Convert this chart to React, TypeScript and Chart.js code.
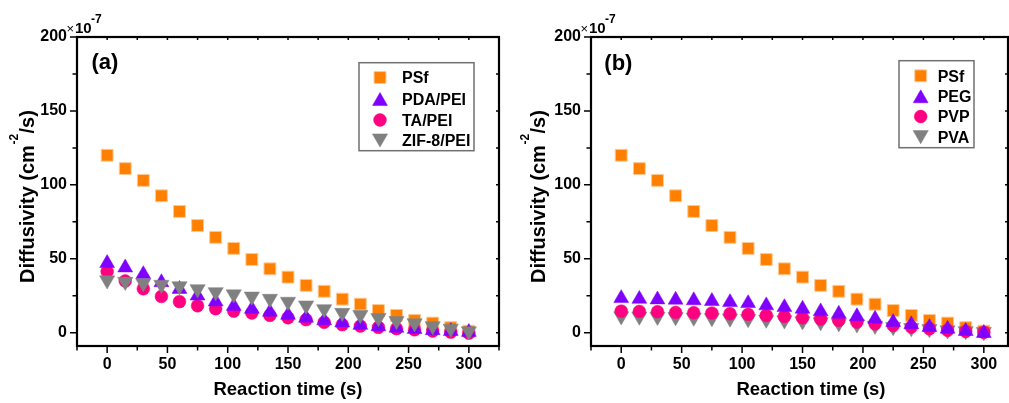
import React, { useEffect, useRef } from 'react';
import { Chart, registerables } from 'chart.js';

Chart.register(...registerables);

// ---------------- data ----------------
const reactionTimes = [0, 15, 30, 45, 60, 75, 90, 105, 120, 135, 150, 165, 180, 195, 210, 225, 240, 255, 270, 285, 300];

const psf = [120, 111, 103, 92.6, 82, 72.5, 64.5, 57, 49.5, 43.2, 37.6, 32, 28, 22.7, 19.3, 15, 11.7, 8.3, 6.5, 3.4, 1];
const pdaPei = [47, 44, 39.5, 34, 29.5, 25, 21, 18, 16, 14, 12, 10, 8.2, 6.8, 5.2, 4.2, 3.2, 2.3, 1.6, 1, 0.4];
const taPei = [41.4, 35, 29.7, 24.5, 21, 18.2, 16.2, 14.6, 13.3, 11.7, 10.1, 8.8, 7, 5.4, 4.5, 3.6, 2.7, 2, 1.1, 0.4, -0.3];
const zifPei = [35.5, 34.5, 33.5, 32.5, 31.5, 29.5, 27.5, 26, 24.5, 23, 21, 18.5, 16, 13.5, 12, 10, 8, 6.5, 4.5, 2.8, 1];

const peg = [23.3, 22.8, 22.4, 22.2, 21.8, 21.3, 20.6, 19.9, 18.4, 17.2, 16.1, 14.3, 12.7, 11, 9.3, 7.1, 5.6, 3.7, 2.6, 1, -0.3];
const pvp = [14.6, 14.4, 14.2, 13.7, 13.5, 13.3, 12.8, 12.4, 11.7, 11, 10.1, 9.2, 8.3, 7.2, 6, 4.9, 3.8, 2.7, 1.6, 0.9, 0.2];
const pva = [11.2, 11, 10.8, 10.6, 10.3, 10, 9.7, 9.3, 8.9, 8.4, 7.8, 7.2, 6.5, 5.7, 4.8, 3.9, 3.2, 2.5, 1.7, 1.1, 0.5];

const seriesNamesA = ['PSf', 'PDA/PEI', 'TA/PEI', 'ZIF-8/PEI'];
const seriesNamesB = ['PSf', 'PEG', 'PVP', 'PVA'];

const xLabelTicks = [0, 50, 100, 150, 200, 250, 300];
const xMinorTicks = [-25, 0, 25, 50, 75, 100, 125, 150, 175, 200, 225, 250, 275, 300, 325];
const yLabelTicks = [0, 50, 100, 150, 200];
const yMinorTicks = [0, 25, 50, 75, 100, 125, 150, 175, 200];

const xTitle = 'Reaction time (s)';
const yTitleParts = ['Diffusivity (cm', '-2', '/s)'];
const multiplierParts = ['×', '10', '-7'];

// ---------------- styles ----------------
const FONT = '"Liberation Sans", Arial, Helvetica, sans-serif';
const ORANGE = '#FF8000';
const PURPLE = '#8000FF';
const PINK = '#FF0080';
const GREY = '#808080';

type MarkerStyle = { style: 'rect' | 'triangle' | 'circle'; rotation: number; radius: number; color: string; border: string; borderWidth: number };

const markers: MarkerStyle[] = [
  { style: 'rect', rotation: 0, radius: 8.4, color: ORANGE, border: '#FFC890', borderWidth: 1 },
  { style: 'triangle', rotation: 0, radius: 8.6, color: PURPLE, border: PURPLE, borderWidth: 0.5 },
  { style: 'circle', rotation: 0, radius: 6.4, color: PINK, border: PINK, borderWidth: 0.5 },
  { style: 'triangle', rotation: 180, radius: 8.8, color: GREY, border: GREY, borderWidth: 0.5 },
];

interface PanelCfg {
  tag: string;
  names: string[];
  series: number[][];
  drawOrder: number[]; // lower = on top
  canvasWidth: number;
  plotLeft: number;
  padRight: number;
  xMax: number;
  legendBox: [number, number, number, number];
  legendMarkerX: number;
  legendTextX: number;
  legendRows: number[];
  tagX: number;
  tagY: number;
  xTitleX: number;
  yTitleX: number;
}

const PLOT_TOP = 37;
const PLOT_BOTTOM = 346;
const CANVAS_H = 403;

const panelA: PanelCfg = {
  tag: '(a)',
  names: seriesNamesA,
  series: [psf, pdaPei, taPei, zifPei],
  drawOrder: [3, 1, 2, 0],
  canvasWidth: 505,
  plotLeft: 77,
  padRight: 6,
  xMax: 325,
  legendBox: [359, 62.7, 115, 88],
  legendMarkerX: 380,
  legendTextX: 402,
  legendRows: [77.5, 99, 120, 140.5],
  tagX: 91.5,
  tagY: 69,
  xTitleX: 288,
  yTitleX: 33.8,
};

const panelB: PanelCfg = {
  tag: '(b)',
  names: seriesNamesB,
  series: [psf, peg, pvp, pva],
  drawOrder: [3, 0, 1, 2],
  canvasWidth: 504,
  plotLeft: 86,
  padRight: 1,
  xMax: 320,
  legendBox: [394, 60.7, 75, 87],
  legendMarkerX: 415.7,
  legendTextX: 432.7,
  legendRows: [75.8, 96.3, 116.5, 137.2],
  tagX: 99.3,
  tagY: 69.5,
  xTitleX: 306,
  yTitleX: 40.3,
};

function drawMarker(ctx: CanvasRenderingContext2D, m: MarkerStyle, x: number, y: number) {
  ctx.save();
  ctx.fillStyle = m.color;
  ctx.strokeStyle = m.border;
  ctx.lineWidth = m.borderWidth;
  ctx.beginPath();
  const r = m.radius;
  if (m.style === 'rect') {
    const s = r * Math.SQRT1_2;
    ctx.rect(x - s, y - s, 2 * s, 2 * s);
  } else if (m.style === 'circle') {
    ctx.arc(x, y, r, 0, Math.PI * 2);
  } else {
    let rad = (m.rotation * Math.PI) / 180;
    ctx.moveTo(x + Math.sin(rad) * r, y - Math.cos(rad) * r);
    rad += (2 * Math.PI) / 3;
    ctx.lineTo(x + Math.sin(rad) * r, y - Math.cos(rad) * r);
    rad += (2 * Math.PI) / 3;
    ctx.lineTo(x + Math.sin(rad) * r, y - Math.cos(rad) * r);
    ctx.closePath();
  }
  ctx.fill();
  if (m.borderWidth > 0) ctx.stroke();
  ctx.restore();
}

function makeDecorPlugin(cfg: PanelCfg) {
  return {
    id: 'decor' + cfg.tag,
    afterDraw(chart: any) {
      const ctx: CanvasRenderingContext2D = chart.ctx;
      const { left, right, top, bottom } = chart.chartArea;
      const xs = chart.scales.x;
      const ys = chart.scales.y;
      ctx.save();
      ctx.strokeStyle = '#000';
      ctx.lineWidth = 1.5;
      // bottom ticks (outward) and top ticks (inward)
      xMinorTicks
        .filter((v) => v <= cfg.xMax)
        .forEach((v) => {
          const px = xs.getPixelForValue(v);
          const major = v % 50 === 0;
          ctx.beginPath();
          ctx.moveTo(px, bottom);
          ctx.lineTo(px, bottom + (major ? 7 : 4.5));
          ctx.moveTo(px, top);
          ctx.lineTo(px, top + 3);
          ctx.stroke();
        });
      yMinorTicks.forEach((v) => {
        const py = ys.getPixelForValue(v);
        const major = v % 50 === 0;
        ctx.beginPath();
        ctx.moveTo(left, py);
        ctx.lineTo(left - (major ? 7 : 4.5), py);
        ctx.moveTo(right, py);
        ctx.lineTo(right - 3, py);
        ctx.stroke();
      });
      // frame
      ctx.lineWidth = 2.2;
      ctx.strokeRect(left, top, right - left, bottom - top);

      ctx.fillStyle = '#000';
      // multiplier
      ctx.textBaseline = 'alphabetic';
      ctx.textAlign = 'left';
      ctx.font = `13px ${FONT}`;
      ctx.fillText(multiplierParts[0], left - 10.5, 33);
      ctx.font = `bold 15px ${FONT}`;
      ctx.fillText(multiplierParts[1], left - 2, 33);
      ctx.font = `bold 12px ${FONT}`;
      ctx.fillText(multiplierParts[2], left + 14, 23);

      // panel tag
      ctx.font = `bold 22px ${FONT}`;
      ctx.fillText(cfg.tag, cfg.tagX, cfg.tagY);

      // x title
      ctx.font = `bold 18.5px ${FONT}`;
      ctx.textAlign = 'center';
      ctx.fillText(xTitle, cfg.xTitleX, 394.5);

      // y title with superscript
      ctx.save();
      ctx.translate(cfg.yTitleX, 197);
      ctx.rotate(-Math.PI / 2);
      ctx.textAlign = 'left';
      const mainFont = `bold 20px ${FONT}`;
      const supFont = `bold 12px ${FONT}`;
      ctx.font = mainFont;
      const w1 = ctx.measureText(yTitleParts[0]).width;
      const w3 = ctx.measureText(yTitleParts[2]).width;
      ctx.font = supFont;
      const w2 = ctx.measureText(yTitleParts[1]).width;
      const start = -(w1 + w2 + w3) / 2;
      ctx.font = mainFont;
      ctx.fillText(yTitleParts[0], start, 0);
      ctx.font = supFont;
      ctx.fillText(yTitleParts[1], start + w1 + 0.5, -16);
      ctx.font = mainFont;
      ctx.fillText(yTitleParts[2], start + w1 + w2 + 1, 0);
      ctx.restore();

      // legend
      const [bx, by, bw, bh] = cfg.legendBox;
      ctx.fillStyle = '#fff';
      ctx.fillRect(bx, by, bw, bh);
      ctx.strokeStyle = '#707070';
      ctx.lineWidth = 1.5;
      ctx.strokeRect(bx, by, bw, bh);
      cfg.names.forEach((name, i) => {
        const m = markers[i];
        const row = cfg.legendRows[i];
        let my = row;
        if (m.style === 'triangle') my = m.rotation === 180 ? row - m.radius / 4 : row + m.radius / 4;
        drawMarker(ctx, m, cfg.legendMarkerX, my);
        ctx.fillStyle = '#000';
        ctx.font = `bold 16px ${FONT}`;
        ctx.textAlign = 'left';
        ctx.textBaseline = 'alphabetic';
        ctx.fillText(name, cfg.legendTextX, row + 5.8);
      });
      ctx.restore();
    },
  };
}

function Panel({ cfg, left }: { cfg: PanelCfg; left: number }) {
  const ref = useRef<HTMLCanvasElement | null>(null);
  useEffect(() => {
    const canvas = ref.current;
    if (!canvas) return;
    const datasets = cfg.series.map((vals, i) => {
      const m = markers[i];
      return {
        label: cfg.names[i],
        data: reactionTimes.map((t, k) => ({ x: t, y: vals[k] })),
        showLine: false,
        pointStyle: m.style,
        pointRotation: m.rotation,
        pointRadius: m.radius,
        pointHoverRadius: m.radius,
        backgroundColor: m.color,
        borderColor: m.border,
        borderWidth: m.borderWidth,
        order: cfg.drawOrder[i],
        clip: false as any,
      };
    });
    const chart = new Chart(canvas, {
      type: 'scatter',
      data: { datasets },
      options: {
        animation: false,
        responsive: false,
        maintainAspectRatio: false,
        devicePixelRatio: 1,
        events: [],
        layout: { autoPadding: false, padding: { left: 0, right: cfg.padRight, top: PLOT_TOP, bottom: 0 } },
        plugins: { legend: { display: false }, tooltip: { enabled: false }, title: { display: false } },
        scales: {
          x: {
            type: 'linear',
            min: -25,
            max: cfg.xMax,
            afterBuildTicks: (s: any) => {
              s.ticks = xLabelTicks.map((v) => ({ value: v }));
            },
            afterFit: (s: any) => {
              s.height = CANVAS_H - PLOT_BOTTOM;
              s.paddingLeft = 0;
              s.paddingRight = 0;
              s.paddingTop = 0;
              s.paddingBottom = 0;
            },
            grid: { display: false, drawTicks: false },
            border: { display: false },
            ticks: {
              color: '#000',
              padding: 9,
              maxRotation: 0,
              autoSkip: false,
              font: { family: FONT, size: 16, weight: 'bold' },
              callback: (v: any) => String(v),
            },
          },
          y: {
            type: 'linear',
            min: -9,
            max: 200,
            afterBuildTicks: (s: any) => {
              s.ticks = yLabelTicks.map((v) => ({ value: v }));
            },
            afterFit: (s: any) => {
              s.width = cfg.plotLeft;
              s.paddingLeft = 0;
              s.paddingRight = 0;
              s.paddingTop = 0;
              s.paddingBottom = 0;
            },
            grid: { display: false, drawTicks: false },
            border: { display: false },
            ticks: {
              color: '#000',
              padding: 10,
              autoSkip: false,
              font: { family: FONT, size: 16, weight: 'bold' },
              callback: (v: any) => String(v),
            },
          },
        },
      } as any,
      plugins: [makeDecorPlugin(cfg)],
    });
    return () => chart.destroy();
  }, [cfg]);
  return (
    <canvas
      ref={ref}
      width={cfg.canvasWidth}
      height={CANVAS_H}
      style={{ position: 'absolute', left, top: 0, width: cfg.canvasWidth, height: CANVAS_H }}
    />
  );
}

export default function App() {
  return (
    <div
      style={{
        position: 'absolute',
        left: 0,
        top: 0,
        width: 1009,
        height: CANVAS_H,
        overflow: 'hidden',
        background: '#fff',
      }}
    >
      <Panel cfg={panelA} left={0} />
      <Panel cfg={panelB} left={505} />
    </div>
  );
}
